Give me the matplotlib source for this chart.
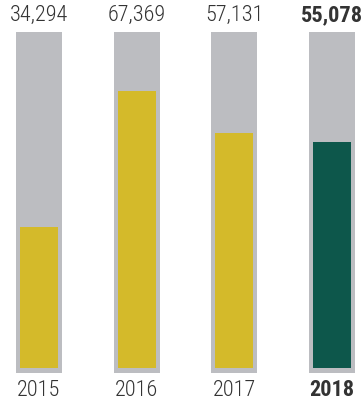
import matplotlib
matplotlib.use('Agg')
import matplotlib.pyplot as plt
import matplotlib.transforms as mtransforms

years = ['2015', '2016', '2017', '2018']
values = [34294, 67369, 57131, 55078]
value_labels = ['34,294', '67,369', '57,131', '55,078']
full_scale = 81700

gray = '#bcbdc1'
gold = '#d4ba2a'
green = '#0d574b'
text_col = '#333333'

plt.rcParams['font.family'] = ['Liberation Sans Narrow', 'Roboto Condensed', 'Liberation Sans', 'DejaVu Sans']

fig = plt.figure(figsize=(3.63, 4.05), dpi=100)
# axes spans pixel rows 32..373 from the top
ax = fig.add_axes([0, (405 - 373) / 405, 1, 341 / 405])
ax.set_xlim(-0.399, 3.317)
ax.set_ylim(-1200, full_scale)
ax.axis('off')

x = range(len(years))
ax.bar(x, full_scale + 1200, bottom=-1200, width=0.471, color=gray, linewidth=0)
colors = [gold, gold, gold, green]
ax.bar(x, values, width=0.389, color=colors, linewidth=0)

trans = mtransforms.blended_transform_factory(ax.transData, ax.transAxes)
for i, (yr, lab) in enumerate(zip(years, value_labels)):
    weight = 'bold' if i == len(years) - 1 else 'light'
    ax.text(i, 1.048, lab, transform=trans, ha='center', va='center',
            fontsize=16, color=text_col, fontweight=weight, clip_on=False)
    ax.text(i, -0.05, yr, transform=trans, ha='center', va='center',
            fontsize=16, color=text_col, fontweight=weight, clip_on=False)

fig.savefig('out.png', dpi=100)
